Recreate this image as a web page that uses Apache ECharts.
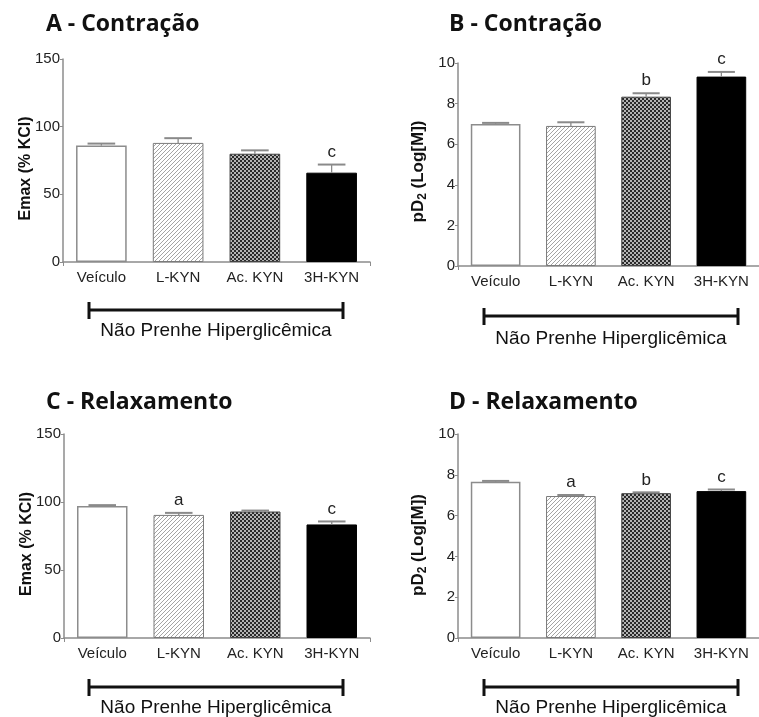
<!DOCTYPE html>
<html><head><meta charset="utf-8">
<script src="https://cdn.jsdelivr.net/npm/echarts@6/dist/echarts.min.js"></script>
<style>html,body{margin:0;padding:0;background:#fff}#c{width:759px;height:717px}</style>
</head><body><div id="c"></div>
<script>
// ---- data ----
const categories = ['Veículo', 'L-KYN', 'Ac. KYN', '3H-KYN'];
const emaxContraction = [86, 88, 80, 66];
const emaxContractionErr = [1.5, 3.5, 2.5, 6];
const emaxContractionSig = ['', '', '', 'c'];
const pd2Contraction = [7.0, 6.9, 8.34, 9.33];
const pd2ContractionErr = [0.05, 0.18, 0.17, 0.23];
const pd2ContractionSig = ['', '', 'b', 'c'];
const emaxRelax = [97, 90.5, 93, 83.5];
const emaxRelaxErr = [0.7, 1.5, 0.7, 2.2];
const emaxRelaxSig = ['', 'a', '', 'c'];
const pd2Relax = [7.66, 6.96, 7.1, 7.2];
const pd2RelaxErr = [0.04, 0.05, 0.04, 0.08];
const pd2RelaxSig = ['', 'a', 'b', 'c'];
const emaxTicks = [0, 50, 100, 150];
const pd2Ticks = [0, 2, 4, 6, 8, 10];
const panelTitles = ['A - Contração', 'B - Contração', 'C - Relaxamento', 'D - Relaxamento'];
const groupLabel = 'Não Prenhe Hiperglicêmica';

// ---- styles ----
function hatch() {
  const c = document.createElement('canvas'); c.width = c.height = 4;
  const g = c.getContext('2d');
  g.fillStyle = '#ffffff'; g.fillRect(0, 0, 4, 4);
  g.fillStyle = '#a4a4a4';
  for (let x = 0; x < 4; x++) g.fillRect(x, 3 - x, 1, 1);
  return c;
}
function checker() {
  const c = document.createElement('canvas'); c.width = c.height = 4;
  const g = c.getContext('2d');
  g.fillStyle = '#b4b4b4'; g.fillRect(0, 0, 4, 4);
  g.fillStyle = '#2a2a2a'; g.fillRect(0, 0, 2, 2); g.fillRect(2, 2, 2, 2);
  return c;
}
const barStyles = [
  { color: '#ffffff', borderColor: '#8c8c8c', borderWidth: 1.5 },
  { color: { image: hatch(), repeat: 'repeat' }, borderColor: '#7a7a7a', borderWidth: 1 },
  { color: { image: checker(), repeat: 'repeat' }, borderColor: '#444', borderWidth: 1 },
  { color: '#000000', borderColor: '#000000', borderWidth: 1 }
];
const FONT = '"Liberation Sans", Arial, sans-serif';
const AXIS_COLOR = '#8c8c8c';

const panels = [
  { vals: emaxContraction, errs: emaxContractionErr, sig: emaxContractionSig, ticks: emaxTicks, name: 'Emax (% KCl)',
    grid: { left: 63, top: 59, width: 307, height: 203 }, nameGap: 29, shift: 16 },
  { vals: pd2Contraction, errs: pd2ContractionErr, sig: pd2ContractionSig, ticks: pd2Ticks, name: 'pD2',
    grid: { left: 458, top: 63, width: 306, height: 203 }, nameGap: 29, shift: 14 },
  { vals: emaxRelax, errs: emaxRelaxErr, sig: emaxRelaxSig, ticks: emaxTicks, name: 'Emax (% KCl)',
    grid: { left: 64, top: 434, width: 306, height: 204 }, nameGap: 29, shift: 16 },
  { vals: pd2Relax, errs: pd2RelaxErr, sig: pd2RelaxSig, ticks: pd2Ticks, name: 'pD2',
    grid: { left: 458, top: 434, width: 306, height: 204 }, nameGap: 29, shift: 18 }
];

const grids = [], xAxes = [], yAxes = [], series = [];
panels.forEach((p, gi) => {
  grids.push(p.grid);
  xAxes.push({
    type: 'category', gridIndex: gi, data: categories,
    axisLine: { lineStyle: { color: AXIS_COLOR, width: 1.5 } },
    axisTick: { show: true, interval: (i) => i === 2, length: 4, lineStyle: { color: AXIS_COLOR } },
    axisLabel: { fontSize: 15, color: '#222', fontFamily: FONT, margin: 8, interval: 0 }
  });
  const isPd = p.name === 'pD2';
  yAxes.push({
    type: 'value', gridIndex: gi,
    min: p.ticks[0], max: p.ticks[p.ticks.length - 1], interval: p.ticks[1] - p.ticks[0],
    splitLine: { show: false },
    axisLine: { show: true, lineStyle: { color: AXIS_COLOR, width: 1.5 } },
    axisTick: { show: true, length: 3, lineStyle: { color: AXIS_COLOR } },
    axisLabel: { fontSize: 15, color: '#222', fontFamily: FONT, margin: 3 },
    name: isPd ? '{a|pD}{s|2}{a| (Log[M])}' : p.name,
    nameLocation: 'middle', nameGap: p.nameGap, nameMoveOverlap: false,
    nameTextStyle: isPd ? {
      padding: [0, p.shift, 0, 0],
      rich: {
        a: { fontSize: 17, fontWeight: 'bold', fontFamily: FONT, color: '#111', lineHeight: 22, verticalAlign: 'middle' },
        s: { fontSize: 12, fontWeight: 'bold', fontFamily: FONT, color: '#111', lineHeight: 22, verticalAlign: 'bottom' }
      }
    } : { fontSize: 16, fontWeight: 'bold', fontFamily: FONT, color: '#111', padding: [0, p.shift, 0, 0] }
  });
  series.push({
    type: 'bar', xAxisIndex: gi, yAxisIndex: gi, barWidth: '66%', silent: true,
    data: p.vals.map((v, i) => ({ value: v, itemStyle: barStyles[i] }))
  });
  const sig = p.sig;
  series.push({
    type: 'custom', xAxisIndex: gi, yAxisIndex: gi, z: 5, silent: true,
    encode: { x: 0, y: [1, 2] },
    data: p.vals.map((v, i) => [i, v, v + p.errs[i]]),
    renderItem(params, api) {
      const i = api.value(0);
      const base = api.coord([i, api.value(1)]);
      const top = api.coord([i, api.value(2)]);
      const half = api.size([1, 0])[0] * 0.18;
      const children = [
        { type: 'line', shape: { x1: base[0], y1: base[1], x2: top[0], y2: top[1] }, style: { stroke: '#8a8a8a', lineWidth: 1.3 } },
        { type: 'line', shape: { x1: top[0] - half, y1: top[1], x2: top[0] + half, y2: top[1] }, style: { stroke: '#8a8a8a', lineWidth: 2 } }
      ];
      if (sig[i]) children.push({ type: 'text', style: { text: sig[i], x: top[0], y: top[1] - 4, align: 'center', verticalAlign: 'bottom', font: '17px ' + FONT, fill: '#222' } });
      return { type: 'group', children };
    }
  });
});

function titleEl(text, x, y) {
  return { type: 'text', x: x, y: y, style: { text: text, font: 'bold 23px "Open Sans", Lato, sans-serif', fill: '#111', align: 'left', verticalAlign: 'middle' } };
}
function bracket(x1, x2, y, ty) {
  return [
    { type: 'line', shape: { x1: x1, y1: y, x2: x2, y2: y }, style: { stroke: '#111', lineWidth: 3 } },
    { type: 'line', shape: { x1: x1, y1: y - 8, x2: x1, y2: y + 9 }, style: { stroke: '#111', lineWidth: 3 } },
    { type: 'line', shape: { x1: x2, y1: y - 8, x2: x2, y2: y + 9 }, style: { stroke: '#111', lineWidth: 3 } },
    { type: 'text', x: (x1 + x2) / 2, y: ty, style: { text: groupLabel, font: '19px ' + FONT, fill: '#111', align: 'center', verticalAlign: 'middle' } }
  ];
}
const graphic = [
  titleEl(panelTitles[0], 46, 24), titleEl(panelTitles[1], 449, 24),
  titleEl(panelTitles[2], 46, 402), titleEl(panelTitles[3], 449, 402),
  ...bracket(89, 343, 310, 331), ...bracket(484, 738, 316, 339),
  ...bracket(89, 343, 687, 708), ...bracket(484, 738, 687, 708)
];

const chart = echarts.init(document.getElementById('c'), null, { renderer: 'canvas' });
chart.setOption({
  animation: false, backgroundColor: '#fff',
  grid: grids, xAxis: xAxes, yAxis: yAxes, series: series, graphic: graphic
});
</script></body></html>
